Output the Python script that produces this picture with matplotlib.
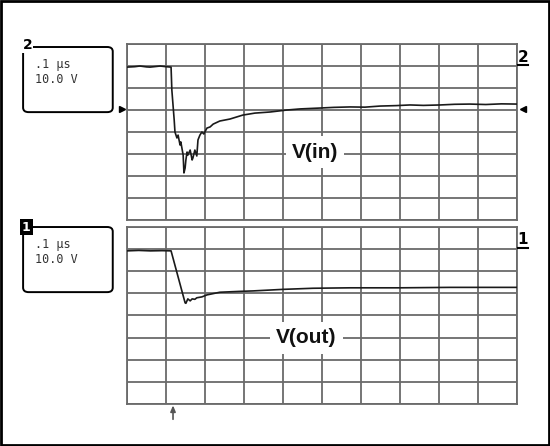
import numpy as np
import matplotlib.pyplot as plt
from matplotlib.patches import FancyBboxPatch, Rectangle

# time in us (0.1 us/div), amplitude in divisions from bottom of each screen (10 V/div)
t_in = [0.000, 0.020, 0.033, 0.050, 0.059, 0.075, 0.085, 0.100, 0.113, 0.115, 0.121, 0.123,
        0.128, 0.131, 0.136, 0.138, 0.144, 0.146, 0.149, 0.151, 0.154, 0.156, 0.162, 0.167,
        0.169, 0.174, 0.179, 0.182, 0.187, 0.192, 0.197, 0.205, 0.213, 0.221, 0.238, 0.264,
        0.297, 0.328, 0.367, 0.410, 0.444, 0.495, 0.530, 0.572, 0.610, 0.649, 0.690, 0.726,
        0.760, 0.803, 0.840, 0.879, 0.920, 0.960, 1.000]
v_in = [6.95, 6.97, 7.00, 6.96, 6.95, 6.98, 7.00, 6.97, 6.95, 5.91, 4.55, 4.00,
        3.73, 3.86, 3.41, 3.55, 2.95, 2.14, 2.36, 2.73, 3.09, 2.95, 3.18, 2.73,
        2.82, 3.18, 2.91, 3.64, 3.86, 4.00, 3.91, 4.18, 4.23, 4.36, 4.50, 4.59,
        4.77, 4.86, 4.91, 5.00, 5.05, 5.09, 5.12, 5.14, 5.13, 5.18, 5.20, 5.23,
        5.21, 5.23, 5.26, 5.27, 5.25, 5.28, 5.27]

t_out = [0.000, 0.030, 0.060, 0.090, 0.113, 0.149, 0.151, 0.156, 0.162, 0.167, 0.174, 0.179,
         0.192, 0.205, 0.238, 0.290, 0.323, 0.400, 0.477, 0.572, 0.700, 0.828, 1.000]
v_out = [6.92, 6.94, 6.92, 6.93, 6.92, 4.57, 4.55, 4.75, 4.66, 4.75, 4.73, 4.80,
         4.84, 4.93, 5.05, 5.09, 5.11, 5.18, 5.23, 5.25, 5.25, 5.27, 5.27]

ch_in_ref = 5.05     # ground marker level of channel 2
trigger_t = 0.118    # trigger position, us
labels = ['V(in)', 'V(out)']
channels = ['2', '1']
timebase = '.1 \u03bcs'
volts = '10.0 V'

fig = plt.figure(figsize=(5.5, 4.46), dpi=100)
fig.patch.set_facecolor('white')
fig.patches.append(Rectangle((0.002, 0.002), 0.996, 0.996, transform=fig.transFigure,
                             fill=False, ec='black', lw=2))

ax_in = fig.add_axes([0.2309, 0.5067, 0.7091, 0.3946])
ax_out = fig.add_axes([0.2309, 0.0942, 0.7091, 0.3969])

for ax in (ax_in, ax_out):
    ax.set_xlim(0, 1.0)
    ax.set_ylim(0, 8)
    ax.set_xticks(np.arange(0, 1.01, 0.1))
    ax.set_yticks(np.arange(0, 8.1, 1))
    ax.tick_params(length=0, labelbottom=False, labelleft=False)
    ax.grid(True, color='#6a6a6a', lw=1.3)
    ax.set_axisbelow(True)
    for s in ax.spines.values():
        s.set_color('#6a6a6a')
        s.set_linewidth(1.3)

ax_in.plot(t_in, v_in, color='#1a1a1a', lw=1.2, zorder=3)
ax_out.plot(t_out, v_out, color='#1a1a1a', lw=1.2, zorder=3)

ax_in.text(0.482, 3.09, labels[0], fontsize=15, family='Liberation Sans', weight='bold',
           ha='center', va='center', zorder=4, color='#111111',
           bbox=dict(boxstyle='square,pad=0.3', fc='white', ec='none'))
ax_out.text(0.459, 2.99, labels[1], fontsize=15, family='Liberation Sans', weight='bold',
            ha='center', va='center', zorder=4, color='#111111',
            bbox=dict(boxstyle='square,pad=0.3', fc='white', ec='none'))

# ground markers of channel 2
ax_in.plot([-0.013], [ch_in_ref], marker='>', color='black', ms=5, clip_on=False)
ax_in.plot([1.015], [ch_in_ref], marker='<', color='black', ms=5, clip_on=False)

# channel numbers on right
fig.text(0.951, 0.872, channels[0], fontsize=11, weight='bold', ha='center', va='center')
fig.lines.append(plt.Line2D([0.942, 0.960], [0.855, 0.855], transform=fig.transFigure,
                            color='black', lw=1.5))
fig.text(0.951, 0.462, channels[1], fontsize=11, weight='bold', ha='center', va='center')
fig.lines.append(plt.Line2D([0.942, 0.960], [0.445, 0.445], transform=fig.transFigure,
                            color='black', lw=1.5))

# settings boxes
for top, ch, inverse in [(0.8946, channels[0], False), (0.4910, channels[1], True)]:
    box = FancyBboxPatch((0.042, top - 0.146), 0.163, 0.146, transform=fig.transFigure,
                         boxstyle='round,pad=0,rounding_size=0.01', fc='white',
                         ec='black', lw=1.4)
    fig.patches.append(box)
    fig.text(0.064, top - 0.040, timebase, family='DejaVu Sans Mono', fontsize=8.5,
             color='#333333', va='center')
    fig.text(0.064, top - 0.073, volts, family='DejaVu Sans Mono', fontsize=8.5,
             color='#333333', va='center')
    if inverse:
        fig.text(0.048, top + 0.0, ch, fontsize=9, weight='bold', color='white',
                 ha='center', va='center',
                 bbox=dict(boxstyle='square,pad=0.15', fc='black', ec='none'))
    else:
        fig.text(0.050, top + 0.004, ch, fontsize=10, weight='bold', color='black',
                 ha='center', va='center',
                 bbox=dict(boxstyle='square,pad=0.05', fc='white', ec='none'))

# trigger arrow
ax_out.annotate('', xy=(trigger_t, 0), xytext=(0, -11), textcoords='offset points',
                xycoords='data', annotation_clip=False,
                arrowprops=dict(arrowstyle='-|>,head_length=0.35,head_width=0.15',
                                color='#555555', lw=1.2, shrinkA=0, shrinkB=1))

fig.savefig('out.png', dpi=100)
